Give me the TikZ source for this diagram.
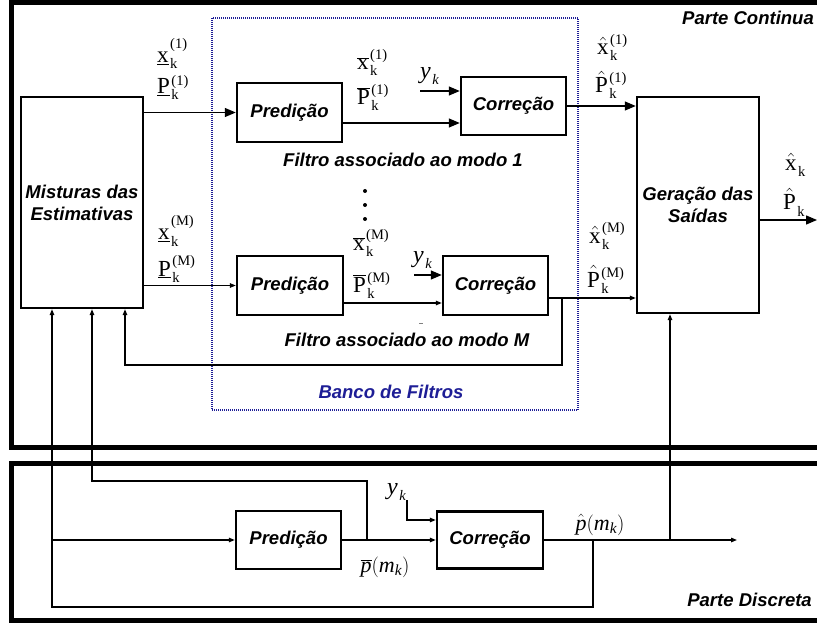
\documentclass[tikz,border=0pt]{standalone}
\usepackage{fontspec}
\setmainfont{Liberation Serif}
\setsansfont{Liberation Sans}
\usetikzlibrary{arrows.meta}

\newcommand\boxfont{\fontsize{18.5}{22}\selectfont\sffamily\bfseries\itshape}
\newcommand\basef{\fontsize{23}{23}\selectfont}
\newcommand\scrf{\fontsize{14.5}{14.5}\selectfont}
\definecolor{bankblue}{RGB}{30,30,150}

% symbol with subscript and superscript: \lab[raise]{base}{sub}{sup}
\newsavebox\supbox
\newsavebox\subbox
\newcommand\lab[4][10pt]{%
  \sbox\supbox{\scrf #4}\sbox\subbox{\scrf #3}%
  \mbox{\basef #2}\kern1.5pt
  \rlap{\raisebox{#1}{\usebox\supbox}}%
  \rlap{\raisebox{-6pt}{\usebox\subbox}}%
  \hspace{\ifdim\wd\supbox>\wd\subbox\wd\supbox\else\wd\subbox\fi}}
\newcommand\ovl[1]{\ensuremath{\overline{\hbox{#1}}}}
\newcommand\hatsym[1]{\ensuremath{\hat{\hbox{#1}}}}

\tikzset{
  blk/.style={draw, line width=2.4pt, inner sep=0pt, align=center, font=\boxfont},
  txt/.style={font=\boxfont, inner sep=0pt},
  sym/.style={font=\basef, inner sep=0pt, anchor=base west},
  link/.style={line width=1.3pt},
  bigtip/.style={link, -{Triangle[length=11pt,width=9pt]}},
  smalltip/.style={link, -{Triangle[length=6pt,width=4.5pt]}},
  frame/.style={line width=5pt},
}

\begin{document}
\begin{tikzpicture}[x=1pt,y=-1pt]
\useasboundingbox (0,0) rectangle (817,623);

% outer frames: continuous and discrete parts
\draw[frame] (817,2.5) -- (11,2.5) -- (11,447) -- (817,447);
\draw[frame] (817,463) -- (11,463) -- (11,620) -- (817,620);
\node[txt, anchor=east] (pc) at (814,18) {Parte Continua};
\node[txt, anchor=east] (pd) at (812,600) {Parte Discreta};

% filter bank
\draw[bankblue, line width=1.2pt, dash pattern=on 1pt off 1pt] (212,18) rectangle (578,410);
\node[txt, text=bankblue] (bank) at (391,392) {Banco de Filtros};

% blocks
\node[blk, minimum width=122, minimum height=211] (mix) at (82,202.5) {Misturas das\\Estimativas};
\node[blk, minimum width=105, minimum height=59] (p1) at (289.5,112.5) {Predição};
\node[blk, minimum width=105, minimum height=58] (c1) at (513.5,106) {Correção};
\node[blk, minimum width=106, minimum height=59] (pM) at (290,285.5) {Predição};
\node[blk, minimum width=105, minimum height=59] (cM) at (495.5,285.5) {Correção};
\node[blk, minimum width=122, minimum height=216] (gen) at (698,205) {Geração das\\Saídas};
\node[blk, minimum width=105, minimum height=58] (pdd) at (288.5,540) {Predição};
\node[blk, minimum width=106, minimum height=57] (cdd) at (490,540) {Correção};

\node[txt] (f1) at (403,160) {Filtro associado ao modo 1};
\node[txt] (fM) at (407,340) {Filtro associado ao modo M};
\fill (365,191) circle (2) (365,205) circle (2) (365,219) circle (2);
\draw[line width=0.6pt, gray] (419,323) -- (423,323);

% state and covariance symbols
\node[sym] (xa1) at (157,63) {\lab[14pt]{\underline{x}}{k}{(1)}};
\node[sym] (Pa1) at (157,94) {\lab[8pt]{\underline{P}}{k}{(1)}};
\node[sym] (xb1) at (357,70) {\lab[10pt]{\ovl{x}}{k}{(1)}};
\node[sym] (Pb1) at (357,105) {\lab[10pt]{\ovl{P}}{k}{(1)}};
\node[sym] (xh1) at (597,55) {\lab[10pt]{\hatsym{x}}{k}{(1)}};
\node[sym] (Ph1) at (595,93) {\lab[10pt]{\hatsym{P}}{k}{(1)}};
\node[sym] (xaM) at (158,240) {\lab[14pt]{\underline{x}}{k}{(M)}};
\node[sym] (PaM) at (158,276) {\lab[11pt]{\underline{P}}{k}{(M)}};
\node[sym] (xbM) at (353,250) {\lab[10pt]{\ovl{x}}{k}{(M)}};
\node[sym] (PbM) at (353,292) {\lab[10pt]{\ovl{P}}{k}{(M)}};
\node[sym] (xhM) at (589,243) {\lab[10pt]{\hatsym{x}}{k}{(M)}};
\node[sym] (PhM) at (587,287) {\lab[10pt]{\hatsym{P}}{k}{(M)}};
\node[sym] (xo) at (785,171) {\lab{\hatsym{x}}{k}{}};
\node[sym] (Po) at (783,210) {\lab{\hatsym{P}}{k}{}};

% measurements and mode probabilities
\node[sym] (y1) at (420,79) {\lab{\itshape\fontsize{24}{24}\selectfont y}{\itshape k}{}};
\node[sym] (y2) at (413,262) {\lab{\itshape\fontsize{24}{24}\selectfont y}{\itshape k}{}};
\node[sym] (y3) at (387,494) {\lab{\itshape\fontsize{24}{24}\selectfont y}{\itshape k}{}};
\node[font=\fontsize{22}{22}\selectfont, inner sep=0pt] (ph) at (600,525) {$\hat{\mathit{p}}(\mathit{m}_{\mathit{k}})$};
\node[font=\fontsize{22}{22}\selectfont, inner sep=0pt] (pb) at (385,567) {$\overline{\mathit{p}}(\mathit{m}_{\mathit{k}})$};

% connector points
\coordinate (yk1) at (420,91);
\coordinate (yk2) at (414,275);
\coordinate (ykd) at (407,500);
\coordinate (p1o) at ([yshift=-10.5]p1.east);
\coordinate (pMo) at ([yshift=-17.5]pM.east);
\coordinate (cMo) at ([yshift=-12.5]cM.east);
\coordinate (fbM) at (562,298);
\coordinate (gO) at ([yshift=-15]gen.east);
\coordinate (gEnd) at (817,220);
\coordinate (mB1) at ([xshift=-30]mix.south);
\coordinate (mB2) at ([xshift=10]mix.south);
\coordinate (mB3) at ([xshift=43]mix.south);
\coordinate (jd0) at (367,540);
\coordinate (jd1) at (593,540);
\coordinate (jd2) at (670,540);
\coordinate (dEnd) at (737,540);

% mode 1 filter
\draw[bigtip] (mix.east |- p1.west) -- (p1.west);
\draw[bigtip] (p1o) -- (p1o -| c1.west);
\draw[bigtip] (yk1) -- (yk1 -| c1.west);
\draw[bigtip] (c1.east) -- (c1.east -| gen.west);

% mode M filter
\draw[smalltip] (mix.east |- pM.west) -- (pM.west);
\draw[smalltip] (pMo) -- (pMo -| cM.west);
\draw[bigtip] (yk2) -- (yk2 -| cM.west);
\draw[smalltip] (cMo) -- (cMo -| gen.west);
\draw[smalltip] (fbM) -- ++(0,67) -| (mB3);

% outputs
\draw[bigtip] (gO) -- (gEnd);

% discrete part
\draw[smalltip] (mB1 |- pdd.west) -- (pdd.west);
\draw[smalltip] (pdd.east) -- (cdd.west);
\draw[smalltip] (ykd) |- ([yshift=20]cdd.west);
\draw[smalltip] (cdd.east) -- (dEnd);
\draw[smalltip] (jd2) -- (jd2 |- gen.south);
\draw[smalltip] (jd1) -- ++(0,67) -| (mB1);
\draw[smalltip] (jd0) -- ++(0,-59) -| (mB2);
\end{tikzpicture}
\end{document}
